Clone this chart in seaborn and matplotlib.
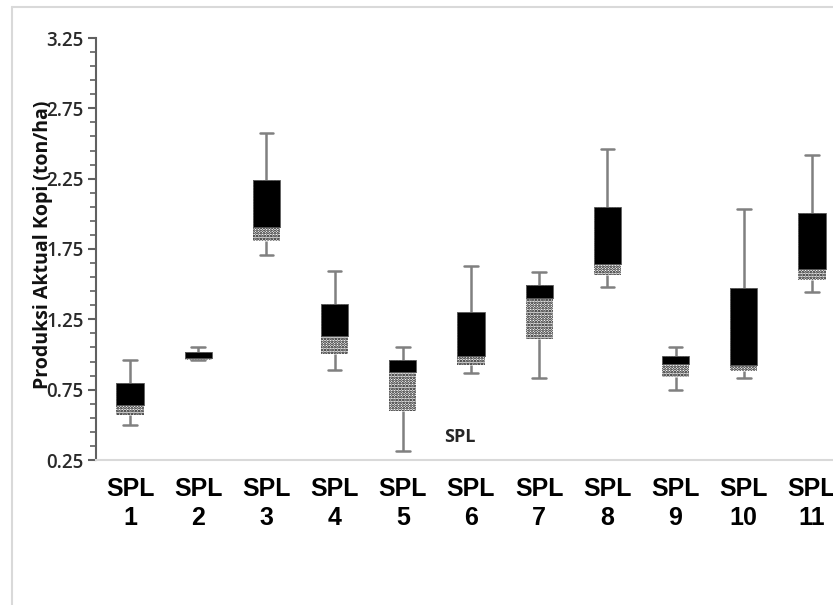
import numpy as np
import pandas as pd
import matplotlib.pyplot as plt
import seaborn as sns
from matplotlib.ticker import FixedLocator, FormatStrFormatter

# five-number summaries (ton/ha)
labels = ["SPL\n1", "SPL\n2", "SPL\n3", "SPL\n4", "SPL\n5", "SPL\n6",
          "SPL\n7", "SPL\n8", "SPL\n9", "SPL\n10", "SPL\n11"]
whisker_low = [0.50, 0.958, 1.71, 0.89, 0.315, 0.87, 0.83, 1.48, 0.745, 0.835, 1.445]
q1 = [0.567, 0.963, 1.81, 1.006, 0.595, 0.923, 1.113, 1.563, 0.84, 0.882, 1.528]
median = [0.643, 0.977, 1.907, 1.129, 0.875, 0.987, 1.404, 1.641, 0.935, 0.923, 1.606]
q3 = [0.797, 1.017, 2.239, 1.362, 0.958, 1.302, 1.492, 2.05, 0.992, 1.473, 2.009]
whisker_high = [0.963, 1.053, 2.576, 1.597, 1.051, 1.629, 1.585, 2.46, 1.053, 2.031, 2.417]

rows = []
for i, lab in enumerate(labels):
    for v in (whisker_low[i], q1[i], median[i], q3[i], whisker_high[i]):
        rows.append((lab, v))
data = pd.DataFrame(rows, columns=["SPL", "Produksi"])

sns.set_style("white")
plt.rcParams["hatch.linewidth"] = 1.3

fig = plt.figure(figsize=(8.33, 6.05), dpi=100)
ax = fig.add_axes([96 / 833, 1 - 460 / 605, 1 - 96 / 833, (460 - 38) / 605])

# box: Q1..Q3 stippled, whiskers min..max
sns.boxplot(data=data, x="SPL", y="Produksi", order=labels, whis=(0, 100), width=0.4,
            color="white", linecolor="#808080", linewidth=1.8, ax=ax,
            boxprops=dict(hatch="......"), medianprops=dict(color="black", linewidth=0.5))
for p in ax.patches:
    p.set_edgecolor("black")
    p.set_linewidth(0)

# upper half of the box (median..Q3) in solid black
ax.bar(np.arange(len(labels)), np.subtract(q3, median), bottom=median, width=0.4,
       color="black", edgecolor="#606060", linewidth=0.6, zorder=3)

ax.set_xlim(-0.5, 10.31)
ax.set_ylim(0.25, 3.25)
ax.set_yticks(np.arange(0.25, 3.26, 0.5))
ax.yaxis.set_minor_locator(FixedLocator(np.arange(0.25, 3.25, 0.1)))
ax.yaxis.set_major_formatter(FormatStrFormatter("%.2f"))
ax.set_xlabel("")
ax.set_ylabel("")

for s in ["top", "right"]:
    ax.spines[s].set_visible(False)
ax.spines["left"].set_color("#606060")
ax.spines["left"].set_linewidth(1.5)
ax.spines["bottom"].set_color("#d9d9d9")
ax.spines["bottom"].set_linewidth(1.5)

ax.tick_params(axis="y", which="major", length=6, width=1.5, color="#606060",
               labelsize=13.5, labelcolor="#2a2a2a", pad=3, left=True)
ax.tick_params(axis="y", which="minor", length=4, width=1.2, color="#606060", left=True)
ax.tick_params(axis="x", length=0, labelsize=18, pad=12, labelcolor="black")
for t in ax.get_yticklabels():
    t.set_family("Open Sans")
    t.set_fontweight("semibold")
for t in ax.get_xticklabels():
    t.set_family("Liberation Sans")
    t.set_fontweight("bold")
    t.set_linespacing(1.3)

fig.text(43 / 833, 1 - 245 / 605, "Produksi Aktual Kopi (ton/ha)", rotation=90,
         ha="center", va="center", fontsize=14, fontweight="bold",
         family="Open Sans", color="#111111")
ax.text(4.84, 0.417, "SPL", fontsize=13, fontweight="bold", family="Open Sans",
        ha="center", va="center")

# outer frame of the original figure
fig.add_artist(plt.Line2D([12 / 833, 12 / 833], [0, 1 - 7 / 605], transform=fig.transFigure,
                          color="#d9d9d9", linewidth=1.5))
fig.add_artist(plt.Line2D([12 / 833, 1], [1 - 7 / 605, 1 - 7 / 605], transform=fig.transFigure,
                          color="#d9d9d9", linewidth=1.5))

fig.savefig("out.png", dpi=100)
